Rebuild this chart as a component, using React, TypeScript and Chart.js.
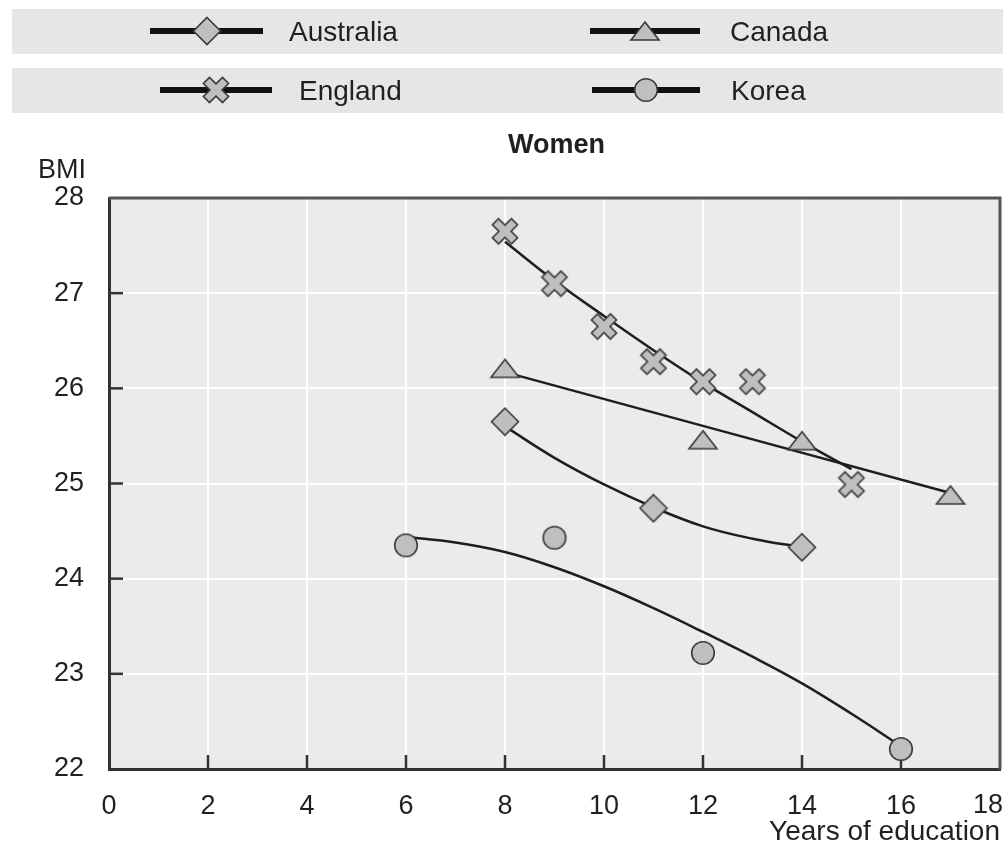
import React, { useEffect, useRef } from 'react';
import { Chart, registerables } from 'chart.js';
Chart.register(...registerables);

// ---- Data ----
const australiaX = [8, 11, 14];
const australiaY = [25.65, 24.74, 24.33];
const canadaX = [8, 12, 14, 17];
const canadaY = [26.21, 25.46, 25.45, 24.88];
const englandX = [8, 9, 10, 11, 12, 13, 15];
const englandY = [27.65, 27.1, 26.65, 26.28, 26.07, 26.07, 24.99];
const koreaX = [6, 9, 12, 16];
const koreaY = [24.35, 24.43, 23.22, 22.21];

// fitted trend lines
const australiaFitX = [8, 9, 10, 11, 12, 13, 14];
const australiaFitY = [25.6, 25.27, 24.99, 24.75, 24.55, 24.42, 24.33];
const canadaFitX = [8, 17];
const canadaFitY = [26.17, 24.9];
const englandFitX = [8, 9, 10, 11, 12, 13, 14, 15];
const englandFitY = [27.54, 27.13, 26.76, 26.4, 26.06, 25.75, 25.44, 25.15];
const koreaFitX = [6, 7, 8, 9, 10, 11, 12, 13, 14, 15, 16];
const koreaFitY = [24.44, 24.38, 24.28, 24.12, 23.92, 23.69, 23.44, 23.18, 22.9, 22.58, 22.24];

const seriesNames = ['Australia', 'Canada', 'England', 'Korea'];
const xMin = 0, xMax = 18, xStep = 2;
const yMin = 22, yMax = 28, yStep = 1;
const titleText = 'Women';
const yAxisLabel = 'BMI';
const xAxisLabel = 'Years of education';

const FONT = '"Liberation Sans Narrow", "Arial Narrow", "Liberation Sans", Arial, sans-serif';
const TEXT = '#231f20';
const FILL = '#bfbfbf';
const STROKE = '#3a3a3a';
const PLOT_BG = '#ebebeb';
const BAND_BG = '#e6e6e6';

function mk(w: number, h: number, draw: (g: CanvasRenderingContext2D) => void) {
  const c = document.createElement('canvas');
  c.width = w; c.height = h;
  const g = c.getContext('2d')!;
  draw(g);
  return c;
}
function finish(g: CanvasRenderingContext2D) {
  g.fillStyle = FILL; g.fill();
  g.lineWidth = 1.6; g.strokeStyle = STROKE; g.stroke();
}
function makeMarkers() {
  const diamond = mk(30, 30, (g) => {
    g.beginPath(); g.moveTo(15, 1.5); g.lineTo(28.5, 15); g.lineTo(15, 28.5); g.lineTo(1.5, 15); g.closePath(); finish(g);
  });
  const triangle = mk(32, 22, (g) => {
    g.beginPath(); g.moveTo(16, 2); g.lineTo(30, 20); g.lineTo(2, 20); g.closePath(); finish(g);
  });
  const cross = mk(30, 30, (g) => {
    g.translate(15, 15); g.rotate(Math.PI / 4);
    const s = 13.5, a = 4.3;
    const p = [[a, -s], [a, -a], [s, -a], [s, a], [a, a], [a, s], [-a, s], [-a, a], [-s, a], [-s, -a], [-a, -a], [-a, -s]];
    g.beginPath(); p.forEach(([x, y], i) => (i ? g.lineTo(x, y) : g.moveTo(x, y))); g.closePath(); finish(g);
  });
  const circle = mk(26, 26, (g) => {
    g.beginPath(); g.arc(13, 13, 11.3, 0, Math.PI * 2); finish(g);
  });
  return [diamond, triangle, cross, circle];
}

const zip = (xs: number[], ys: number[]) => xs.map((x, i) => ({ x, y: ys[i] }));

export default function App() {
  const ref = useRef<HTMLCanvasElement | null>(null);
  useEffect(() => {
    document.body.style.margin = '0';
    const markers = makeMarkers();
    const pointSets = [zip(australiaX, australiaY), zip(canadaX, canadaY), zip(englandX, englandY), zip(koreaX, koreaY)];
    const fitSets = [zip(australiaFitX, australiaFitY), zip(canadaFitX, canadaFitY), zip(englandFitX, englandFitY), zip(koreaFitX, koreaFitY)];

    const datasets: any[] = [];
    fitSets.forEach((d, i) => datasets.push({
      type: 'line', label: seriesNames[i] + ' fit', data: d, borderColor: '#1e1e1e', borderWidth: 2.5,
      pointRadius: 0, tension: 0.4, fill: false, order: 2,
    }));
    pointSets.forEach((d, i) => datasets.push({
      type: 'line', label: seriesNames[i], data: d, showLine: false, pointStyle: markers[i],
      pointRadius: 12, order: 0,
    }));

    const decor = {
      id: 'decor',
      beforeDraw(chart: any) {
        const { ctx, chartArea: a } = chart;
        ctx.save();
        ctx.fillStyle = PLOT_BG;
        ctx.fillRect(a.left, a.top, a.right - a.left, a.bottom - a.top);
        ctx.restore();
      },
      beforeDatasetsDraw(chart: any) {
        const { ctx, chartArea: a, scales } = chart;
        ctx.save();
        ctx.strokeStyle = '#555'; ctx.lineWidth = 3;
        ctx.beginPath(); ctx.moveTo(a.left, a.top); ctx.lineTo(a.right, a.top); ctx.lineTo(a.right, a.bottom); ctx.stroke();
        ctx.strokeStyle = '#333'; ctx.lineWidth = 2.5;
        scales.x.ticks.forEach((t: any) => {
          const px = scales.x.getPixelForValue(t.value);
          if (px <= a.left + 2 || px >= a.right - 2) return;
          ctx.beginPath(); ctx.moveTo(px, a.bottom); ctx.lineTo(px, a.bottom - 14); ctx.stroke();
        });
        scales.y.ticks.forEach((t: any) => {
          const py = scales.y.getPixelForValue(t.value);
          if (py <= a.top + 2 || py >= a.bottom - 2) return;
          ctx.beginPath(); ctx.moveTo(a.left, py); ctx.lineTo(a.left + 14, py); ctx.stroke();
        });
        ctx.restore();
      },
      afterDraw(chart: any) {
        const { ctx, chartArea: a, scales } = chart;
        ctx.save();
        ctx.fillStyle = BAND_BG;
        ctx.fillRect(12, 9, 991, 45);
        ctx.fillRect(12, 68, 991, 45);
        const items = [
          { lx: 150, rx: 263, mx: 207, tx: 289, cy: 31, by: 41 },
          { lx: 590, rx: 700, mx: 645, tx: 730, cy: 31, by: 41 },
          { lx: 160, rx: 272, mx: 216, tx: 299, cy: 90, by: 100 },
          { lx: 592, rx: 700, mx: 646, tx: 731, cy: 90, by: 100 },
        ];
        items.forEach((it, i) => {
          ctx.strokeStyle = '#111'; ctx.lineWidth = 6;
          ctx.beginPath(); ctx.moveTo(it.lx, it.cy); ctx.lineTo(it.rx, it.cy); ctx.stroke();
          const m = markers[i];
          ctx.drawImage(m, it.mx - m.width / 2, it.cy - m.height / 2);
          ctx.fillStyle = TEXT; ctx.font = `28px ${FONT}`; ctx.textAlign = 'left'; ctx.textBaseline = 'alphabetic';
          ctx.fillText(seriesNames[i], it.tx, it.by);
        });
        ctx.fillStyle = TEXT;
        ctx.font = `bold 27px ${FONT}`; ctx.textAlign = 'center';
        ctx.fillText(titleText, (a.left + a.right) / 2 + 2, 153);
        ctx.font = `27px ${FONT}`; ctx.textAlign = 'center';
        ctx.fillText(yAxisLabel, 62, 178);
        // last x tick label, kept inside the canvas like the reference
        ctx.font = `27px ${FONT}`; ctx.textAlign = 'right'; ctx.textBaseline = 'middle';
        const lastPx = scales.x.getPixelForValue(xMax);
        ctx.fillText(String(xMax), Math.min(lastPx + 15, chart.width), 806);
        ctx.restore();
      },
    };

    const chart = new Chart(ref.current!, {
      type: 'scatter',
      data: { datasets },
      plugins: [decor],
      options: {
        animation: false,
        responsive: false,
        devicePixelRatio: 1,
        layout: { autoPadding: false, padding: { top: 198, right: 3, bottom: 0, left: 0 } },
        plugins: { legend: { display: false }, tooltip: { enabled: false }, title: { display: false } },
        scales: {
          x: {
            type: 'linear', min: xMin, max: xMax,
            grid: { color: '#ffffff', lineWidth: 2, drawTicks: false },
            border: { display: true, color: '#333', width: 3 },
            ticks: {
              stepSize: xStep, autoSkip: false, maxRotation: 0, padding: 21, color: TEXT, font: { family: FONT, size: 27 },
              callback: (v: any) => (v === xMax ? '' : String(v)),
            },
            title: { display: true, text: xAxisLabel, align: 'end', color: TEXT, font: { family: FONT, size: 28, lineHeight: 1 }, padding: { top: 0, bottom: 3 } },
            afterFit: (s: any) => { s.height = 80; s.paddingLeft = 0; s.paddingRight = 0; },
          },
          y: {
            type: 'linear', min: yMin, max: yMax,
            grid: { color: '#ffffff', lineWidth: 2, drawTicks: false },
            border: { display: true, color: '#333', width: 3 },
            ticks: { stepSize: yStep, padding: 25, color: TEXT, font: { family: FONT, size: 27 } },
            afterFit: (s: any) => { s.width = 109; s.paddingTop = 0; s.paddingBottom = 0; },
          },
        },
      } as any,
    });
    return () => chart.destroy();
  }, []);
  return <canvas ref={ref} width={1003} height={849} style={{ display: 'block', width: 1003, height: 849 }} />;
}
